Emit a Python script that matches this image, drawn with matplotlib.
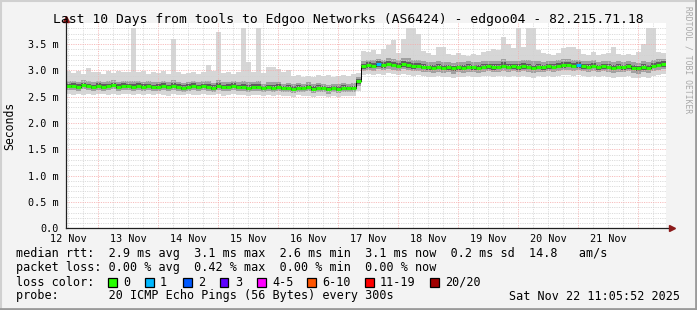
import numpy as np
import matplotlib
matplotlib.use("Agg")
import matplotlib.pyplot as plt
from matplotlib.patches import Rectangle
from datetime import datetime, timedelta

plt.rcParams['font.family'] = ['DejaVu Sans Mono']

W, H = 697, 310

# 10 days, 2-hour steps (120 steps), values in ms
start = datetime(2025, 11, 12, 11, 5, 52)
step_h = 2

median = [
    2.70, 2.71, 2.69, 2.72, 2.70, 2.68, 2.71, 2.69, 2.70, 2.72, 2.69, 2.71,
    2.70, 2.68, 2.71, 2.69, 2.70, 2.68, 2.69, 2.71, 2.68, 2.70, 2.69, 2.67,
    2.69, 2.71, 2.68, 2.70, 2.69, 2.67, 2.70, 2.68, 2.69, 2.71, 2.68, 2.69,
    2.67, 2.69, 2.68, 2.66, 2.68, 2.67, 2.69, 2.66, 2.67, 2.65, 2.67, 2.66,
    2.68, 2.65, 2.67, 2.66, 2.64, 2.66, 2.65, 2.67, 2.66, 2.66, 2.80, 3.08,
    3.10, 3.09, 3.12, 3.10, 3.13, 3.11, 3.09, 3.12, 3.10, 3.08, 3.09, 3.07,
    3.06, 3.05, 3.07, 3.05, 3.06, 3.04, 3.06, 3.05, 3.07, 3.06, 3.05, 3.07,
    3.08, 3.06, 3.07, 3.09, 3.07, 3.08, 3.06, 3.08, 3.07, 3.05, 3.07, 3.06,
    3.08, 3.07, 3.09, 3.10, 3.11, 3.09, 3.10, 3.08, 3.07, 3.09, 3.06, 3.08,
    3.07, 3.05, 3.07, 3.06, 3.08, 3.05, 3.04, 3.06, 3.05, 3.09, 3.11, 3.12,
]

smoke_lo = [
    2.55, 2.54, 2.56, 2.53, 2.55, 2.54, 2.56, 2.55, 2.53, 2.56, 2.54, 2.55,
    2.56, 2.53, 2.55, 2.54, 2.56, 2.53, 2.55, 2.54, 2.52, 2.55, 2.54, 2.53,
    2.55, 2.53, 2.54, 2.56, 2.53, 2.54, 2.55, 2.52, 2.54, 2.55, 2.53, 2.54,
    2.52, 2.54, 2.53, 2.51, 2.53, 2.52, 2.54, 2.51, 2.52, 2.50, 2.53, 2.51,
    2.52, 2.50, 2.52, 2.51, 2.49, 2.51, 2.50, 2.52, 2.51, 2.52, 2.60, 2.92,
    2.93, 2.91, 2.94, 2.92, 2.95, 2.93, 2.91, 2.93, 2.92, 2.90, 2.91, 2.89,
    2.88, 2.87, 2.89, 2.88, 2.87, 2.86, 2.88, 2.87, 2.89, 2.88, 2.87, 2.89,
    2.90, 2.88, 2.89, 2.90, 2.88, 2.89, 2.87, 2.90, 2.88, 2.86, 2.89, 2.88,
    2.89, 2.88, 2.90, 2.91, 2.92, 2.90, 2.91, 2.89, 2.88, 2.90, 2.87, 2.89,
    2.88, 2.86, 2.88, 2.87, 2.89, 2.86, 2.85, 2.87, 2.86, 2.90, 2.92, 2.93,
]

smoke_q_lo = [
    2.62, 2.63, 2.61, 2.64, 2.62, 2.60, 2.63, 2.61, 2.62, 2.64, 2.61, 2.63,
    2.62, 2.60, 2.63, 2.61, 2.62, 2.60, 2.61, 2.63, 2.60, 2.62, 2.61, 2.59,
    2.61, 2.63, 2.60, 2.62, 2.61, 2.59, 2.62, 2.60, 2.61, 2.63, 2.60, 2.61,
    2.59, 2.61, 2.60, 2.58, 2.60, 2.59, 2.61, 2.58, 2.59, 2.57, 2.59, 2.58,
    2.60, 2.57, 2.59, 2.58, 2.56, 2.58, 2.57, 2.59, 2.58, 2.58, 2.70, 2.99,
    3.00, 2.99, 3.02, 3.00, 3.03, 3.01, 2.99, 3.02, 3.00, 2.98, 2.99, 2.97,
    2.96, 2.95, 2.97, 2.95, 2.96, 2.94, 2.96, 2.95, 2.97, 2.96, 2.95, 2.97,
    2.98, 2.96, 2.97, 2.99, 2.97, 2.98, 2.96, 2.98, 2.97, 2.95, 2.97, 2.96,
    2.98, 2.97, 2.99, 3.00, 3.01, 2.99, 3.00, 2.98, 2.97, 2.99, 2.96, 2.98,
    2.97, 2.95, 2.97, 2.96, 2.98, 2.95, 2.94, 2.96, 2.95, 2.99, 3.01, 3.02,
]

smoke_q_hi = [
    2.79, 2.80, 2.78, 2.81, 2.79, 2.77, 2.80, 2.78, 2.79, 2.81, 2.78, 2.80,
    2.79, 2.79, 2.80, 2.78, 2.79, 2.77, 2.78, 2.80, 2.77, 2.81, 2.78, 2.76,
    2.78, 2.80, 2.77, 2.79, 2.79, 2.76, 2.81, 2.77, 2.78, 2.80, 2.77, 2.80,
    2.77, 2.78, 2.79, 2.75, 2.78, 2.77, 2.78, 2.75, 2.76, 2.74, 2.76, 2.75,
    2.77, 2.74, 2.76, 2.75, 2.73, 2.75, 2.74, 2.76, 2.75, 2.76, 2.88, 3.18,
    3.20, 3.19, 3.22, 3.20, 3.24, 3.22, 3.19, 3.24, 3.23, 3.20, 3.20, 3.17,
    3.16, 3.15, 3.18, 3.16, 3.16, 3.14, 3.16, 3.15, 3.17, 3.16, 3.15, 3.17,
    3.18, 3.17, 3.17, 3.21, 3.18, 3.18, 3.18, 3.20, 3.19, 3.17, 3.17, 3.16,
    3.18, 3.17, 3.19, 3.21, 3.22, 3.20, 3.20, 3.18, 3.17, 3.19, 3.16, 3.18,
    3.17, 3.16, 3.17, 3.16, 3.18, 3.15, 3.14, 3.17, 3.16, 3.19, 3.21, 3.22,
]

smoke_hi = [
    2.98, 2.95, 2.99, 2.93, 3.05, 2.96, 2.97, 2.94, 2.99, 2.95, 2.98, 2.96,
    2.97, 3.80, 2.96, 2.99, 2.94, 2.97, 2.95, 2.98, 2.93, 3.60, 2.96, 2.94,
    2.95, 2.97, 2.93, 2.96, 3.10, 2.98, 3.73, 2.95, 2.97, 2.94, 2.96, 3.80,
    3.16, 2.97, 3.80, 2.95, 3.07, 3.06, 3.02, 2.97, 3.00, 2.89, 2.91, 2.88,
    2.90, 2.87, 2.92, 2.89, 2.91, 2.88, 2.90, 2.92, 2.89, 2.93, 2.95, 3.36,
    3.34, 3.38, 3.32, 3.40, 3.48, 3.57, 3.33, 3.60, 3.80, 3.80, 3.70, 3.36,
    3.33, 3.30, 3.45, 3.44, 3.31, 3.29, 3.33, 3.30, 3.28, 3.32, 3.30, 3.34,
    3.36, 3.40, 3.38, 3.64, 3.50, 3.42, 3.80, 3.45, 3.80, 3.80, 3.38, 3.33,
    3.31, 3.29, 3.33, 3.42, 3.45, 3.44, 3.40, 3.32, 3.30, 3.34, 3.29, 3.31,
    3.33, 3.45, 3.32, 3.29, 3.31, 3.30, 3.34, 3.50, 3.80, 3.80, 3.35, 3.33,
]

# lost pings per step (out of 20), only non-zero steps listed
loss_steps = {62: 1, 102: 1}

loss_labels = ['0', '1', '2', '3', '4-5', '6-10', '11-19', '20/20']
loss_colors = ['#26ff00', '#00b8ff', '#0059ff', '#5e00ff', '#ff00fe',
               '#ff5500', '#ff0000', '#a10000']

legend_rows = [
    "median rtt:  2.9 ms avg  3.1 ms max  2.6 ms min  3.1 ms now  0.2 ms sd  14.8   am/s",
    "packet loss: 0.00 % avg  0.42 % max  0.00 % min  0.00 % now",
]
probe_text = "probe:       20 ICMP Echo Pings (56 Bytes) every 300s"
date_text = "Sat Nov 22 11:05:52 2025"
title = "Last 10 Days from tools to Edgoo Networks (AS6424) - edgoo04 - 82.215.71.18"

n = len(median)
edges = np.arange(n + 1) * step_h
med = np.array(median)
lo, qlo, qhi, hi = map(np.array, (smoke_lo, smoke_q_lo, smoke_q_hi, smoke_hi))


def ext(a):
    return np.append(a, a[-1])


fig = plt.figure(figsize=(W / 100, H / 100), dpi=100, facecolor='#f3f3f3')
top_px, bot_px, left_px = 23, 228.3, 66
ax = fig.add_axes([left_px / W, (H - bot_px) / H, 600 / W, (bot_px - top_px) / H])
ax.set_facecolor('white')
ymax = 3.9
ax.set_xlim(0, 240)
ax.set_ylim(0, ymax)

# smoke
ax.fill_between(edges, ext(lo), ext(hi), step='post', color='#d6d6d6', lw=0, zorder=1)
ax.fill_between(edges, ext(qlo), ext(qhi), step='post', color='#a0a0a0', lw=0, zorder=1.1)
ax.fill_between(edges, ext((qlo + med) / 2), ext((qhi + med) / 2), step='post',
                color='#5e5e5e', lw=0, zorder=1.2)

# grid
minor_c, major_c = '#d2d2d2', '#f5abab'
first_mid = (datetime(2025, 11, 13) - start).total_seconds() / 3600
for h in np.arange(first_mid - 12, 240, 6):
    if h <= 0:
        continue
    major = abs((h - first_mid) % 24) < 1e-6
    ax.axvline(h, color=major_c if major else minor_c, lw=0.55,
               ls=(0, (1.5, 1.5)), zorder=2)
for v in np.arange(0.1, ymax, 0.1):
    major = abs(v / 0.5 - round(v / 0.5)) < 1e-6
    ax.axhline(v, color=major_c if major else minor_c, lw=0.55,
               ls=(0, (1.5, 1.5)), zorder=2)

# median: black step line with loss-coloured segments
ax.step(edges, ext(med), where='post', color='#000000', lw=0.7, zorder=3)
seg_colors = [loss_colors[loss_steps.get(i, 0)] for i in range(n)]
ax.hlines(med, edges[:-1] + 0.15, edges[1:] - 0.15, colors=seg_colors, lw=2.2, zorder=4)

for s in ax.spines.values():
    s.set_visible(False)

# axis lines with arrows
ax.plot([0, 0], [0, ymax * 1.012], color='#202020', lw=0.9, clip_on=False, zorder=5)
ax.plot([0, 242], [0, 0], color='#202020', lw=0.9, clip_on=False, zorder=5)
ax.plot([0], [ymax * 1.02], marker='^', color='#8b1a1a', ms=4, clip_on=False, zorder=6)
ax.plot([242.5], [0], marker='>', color='#8b1a1a', ms=4, clip_on=False, zorder=6)

yt = np.arange(0, 3.51, 0.5)
ax.set_yticks(yt)
ax.set_yticklabels(['0.0'] + ['%.1f m' % v for v in yt[1:]])
noon = (datetime(2025, 11, 12, 12) - start).total_seconds() / 3600
xt = noon + 24 * np.arange(10)
ax.set_xticks(xt)
ax.set_xticklabels([(start + timedelta(hours=float(h))).strftime('%d %b').lstrip('0')
                    for h in xt])
ax.tick_params(axis='both', length=0, labelsize=7.3, colors='#000000')
ax.tick_params(axis='y', pad=5)
ax.tick_params(axis='x', pad=4)


def fx(x):
    return x / W


def fy(y):
    return 1 - y / H


fig.text(fx(348.5), fy(19), title, ha='center', va='center', fontsize=9.4)
fig.text(fx(10), fy(126), 'Seconds', rotation=90, ha='center', va='center', fontsize=8.3)
fig.text(fx(688), fy(6), 'RRDTOOL / TOBI OETIKER', rotation=270, ha='center', va='top',
         fontsize=5.8, color='#a8a8a8')

fs = 8.5
fig.text(fx(16), fy(254), legend_rows[0], va='center', fontsize=fs)
fig.text(fx(16), fy(268), legend_rows[1], va='center', fontsize=fs)
fig.text(fx(16), fy(282), 'loss color:', va='center', fontsize=fs)
box_x = [108, 145, 183, 220, 257, 307, 365, 430]
for bx, c, lab in zip(box_x, loss_colors, loss_labels):
    fig.patches.append(Rectangle((fx(bx), fy(286.5)), 8.5 / W, 8.5 / H,
                                 transform=fig.transFigure, facecolor=c,
                                 edgecolor='black', lw=0.9))
    fig.text(fx(bx + 15), fy(282), lab, va='center', fontsize=fs)
fig.text(fx(16), fy(296), probe_text, va='center', fontsize=fs)
fig.text(fx(680), fy(296), date_text, va='center', ha='right', fontsize=fs)

# 3D-ish frame
fig.lines.append(plt.Line2D([0, 1], [fy(0.5), fy(0.5)], transform=fig.transFigure, color='#d0d0d0', lw=1.5))
fig.lines.append(plt.Line2D([fx(0.5), fx(0.5)], [0, 1], transform=fig.transFigure, color='#d0d0d0', lw=1.5))
fig.lines.append(plt.Line2D([0, 1], [fy(309), fy(309)], transform=fig.transFigure, color='#9a9a9a', lw=2))
fig.lines.append(plt.Line2D([fx(696), fx(696)], [0, 1], transform=fig.transFigure, color='#9a9a9a', lw=2))

fig.savefig('out.png', dpi=100, facecolor=fig.get_facecolor())
